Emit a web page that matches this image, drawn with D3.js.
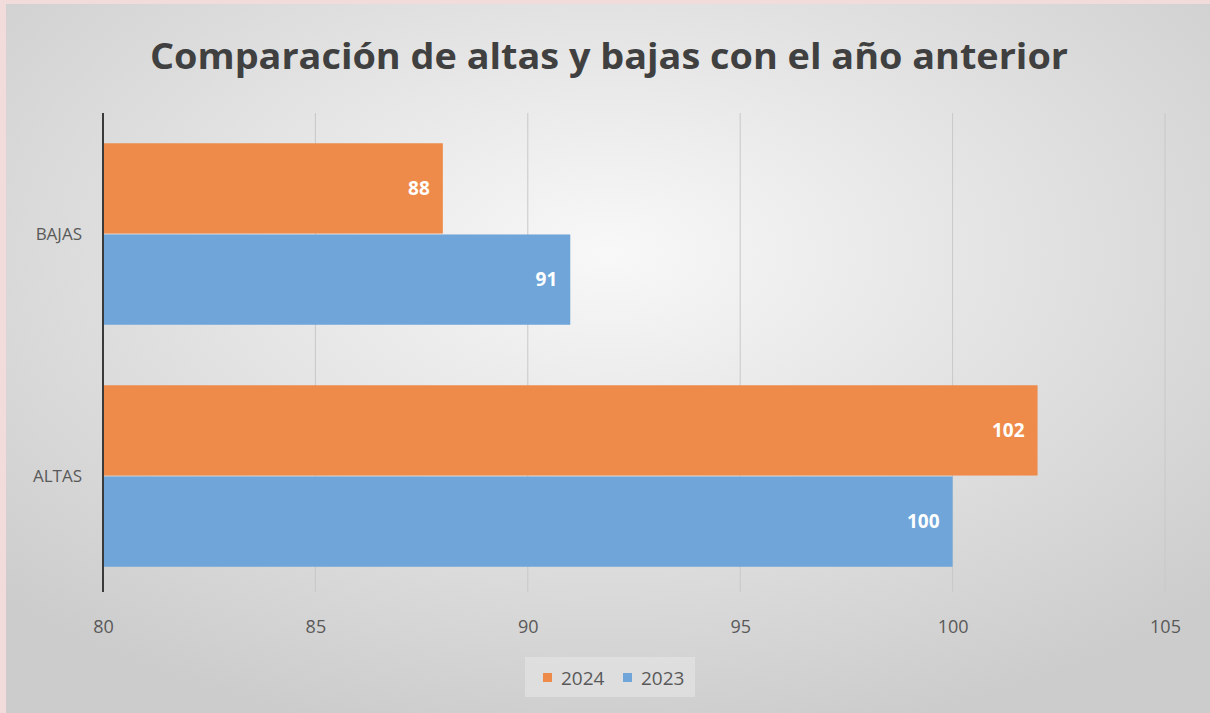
<!DOCTYPE html>
<html>
<head>
<meta charset="utf-8">
<script src="https://cdn.jsdelivr.net/npm/d3@7"></script>
<style>
  body { margin: 0; background: #f2dcdb; }
  svg { display: block; font-family: "Open Sans", sans-serif; }
</style>
</head>
<body>
<svg id="main_svg_container" width="1210" height="713"></svg>
<script>
// Chart data
var categories = ["BAJAS", "ALTAS"];
var series_names = ["2024", "2023"];
var values_2024 = [88, 102];
var values_2023 = [91, 100];
var x_ticks = [80, 85, 90, 95, 100, 105];
var title_text = "Comparación de altas y bajas con el año anterior";

var colors = { "2024": "#ee8b4a", "2023": "#6fa5d9" };

var svg_width = 1210, svg_height = 713;
var svg = d3.select("#main_svg_container");

// Background with soft radial shading
var defs = svg.append("defs");
var grad = defs.append("radialGradient")
    .attr("id", "bg_grad")
    .attr("cx", "50%").attr("cy", "35%").attr("r", "70%");
grad.append("stop").attr("offset", "0%").attr("stop-color", "#f8f8f8");
grad.append("stop").attr("offset", "100%").attr("stop-color", "#cccccc");

svg.append("rect")
    .attr("x", 0).attr("y", 0)
    .attr("width", svg_width).attr("height", svg_height)
    .attr("fill", "#f2dcdb");

svg.append("rect")
    .attr("x", 6).attr("y", 4)
    .attr("width", svg_width - 6).attr("height", svg_height - 4)
    .attr("fill", "url(#bg_grad)");

// Title
svg.append("text")
    .attr("x", 609)
    .attr("y", 69)
    .attr("text-anchor", "middle")
    .attr("font-size", 36)
    .attr("font-weight", "bold")
    .attr("fill", "#404040")
    .attr("textLength", 918)
    .attr("lengthAdjust", "spacingAndGlyphs")
    .text(title_text);

// Scales
var plot_left = 103, plot_right = 1165, plot_top = 113, plot_bottom = 597;

var x = d3.scaleLinear()
    .domain([80, 105])
    .range([plot_left, plot_right]);

var y = d3.scaleBand()
    .domain(categories)
    .range([plot_top, plot_bottom])
    .paddingInner(0.25)
    .paddingOuter(0.125);

var y_inner = d3.scaleBand()
    .domain(series_names)
    .range([0, y.bandwidth()])
    .paddingInner(0.01);

// Gridlines
svg.append("g")
    .selectAll("line")
    .data(x_ticks.slice(1))
    .join("line")
    .attr("x1", function(d) { return x(d); })
    .attr("x2", function(d) { return x(d); })
    .attr("y1", plot_top)
    .attr("y2", 592)
    .attr("stroke", "#c8c8c8")
    .attr("stroke-width", 1);

// Bars
var rows = categories.map(function(c, i) {
  return [
    { cat: c, series: "2024", value: values_2024[i] },
    { cat: c, series: "2023", value: values_2023[i] }
  ];
}).flat();

var bar_g = svg.append("g");
bar_g.selectAll("rect")
    .data(rows)
    .join("rect")
    .attr("x", x(80))
    .attr("y", function(d) { return y(d.cat) + y_inner(d.series); })
    .attr("width", function(d) { return x(d.value) - x(80); })
    .attr("height", y_inner.bandwidth())
    .attr("fill", function(d) { return colors[d.series]; });

bar_g.selectAll("text")
    .data(rows)
    .join("text")
    .attr("x", function(d) { return x(d.value) - 13; })
    .attr("y", function(d) { return y(d.cat) + y_inner(d.series) + y_inner.bandwidth() / 2; })
    .attr("dy", "0.35em")
    .attr("text-anchor", "end")
    .attr("font-size", 19)
    .attr("font-weight", "bold")
    .attr("fill", "#ffffff")
    .text(function(d) { return d.value; });

// Vertical axis line
svg.append("line")
    .attr("x1", plot_left).attr("x2", plot_left)
    .attr("y1", plot_top).attr("y2", 592)
    .attr("stroke", "#3a3a3a")
    .attr("stroke-width", 2);

// Category labels
svg.append("g")
    .selectAll("text")
    .data(categories)
    .join("text")
    .attr("x", 82)
    .attr("y", function(d) { return y(d) + y.bandwidth() / 2; })
    .attr("dy", "0.35em")
    .attr("text-anchor", "end")
    .attr("font-size", 17)
    .attr("fill", "#595959")
    .text(function(d) { return d; });

// X axis tick labels
var x_axis = d3.axisBottom(x)
    .tickValues(x_ticks)
    .tickSize(0)
    .tickPadding(0);

var x_axis_g = svg.append("g")
    .attr("transform", "translate(0," + 620 + ")")
    .call(x_axis);
x_axis_g.select(".domain").remove();
x_axis_g.selectAll("text")
    .attr("font-family", "'Open Sans', sans-serif")
    .attr("font-size", 18)
    .attr("fill", "#595959");

// Legend
var legend_g = svg.append("g");
legend_g.append("rect")
    .attr("x", 525).attr("y", 657)
    .attr("width", 170).attr("height", 40)
    .attr("fill", "#e6e6e6")
    .attr("opacity", 0.6);

var legend_pos = [{ name: "2024", x: 543 }, { name: "2023", x: 623 }];
legend_g.selectAll("rect.swatch")
    .data(legend_pos)
    .join("rect")
    .attr("class", "swatch")
    .attr("x", function(d) { return d.x; })
    .attr("y", 673)
    .attr("width", 9).attr("height", 9)
    .attr("fill", function(d) { return colors[d.name]; });

legend_g.selectAll("text")
    .data(legend_pos)
    .join("text")
    .attr("x", function(d) { return d.x + 18; })
    .attr("y", 678)
    .attr("dy", "0.35em")
    .attr("font-size", 19)
    .attr("fill", "#595959")
    .text(function(d) { return d.name; });
</script>
</body>
</html>
